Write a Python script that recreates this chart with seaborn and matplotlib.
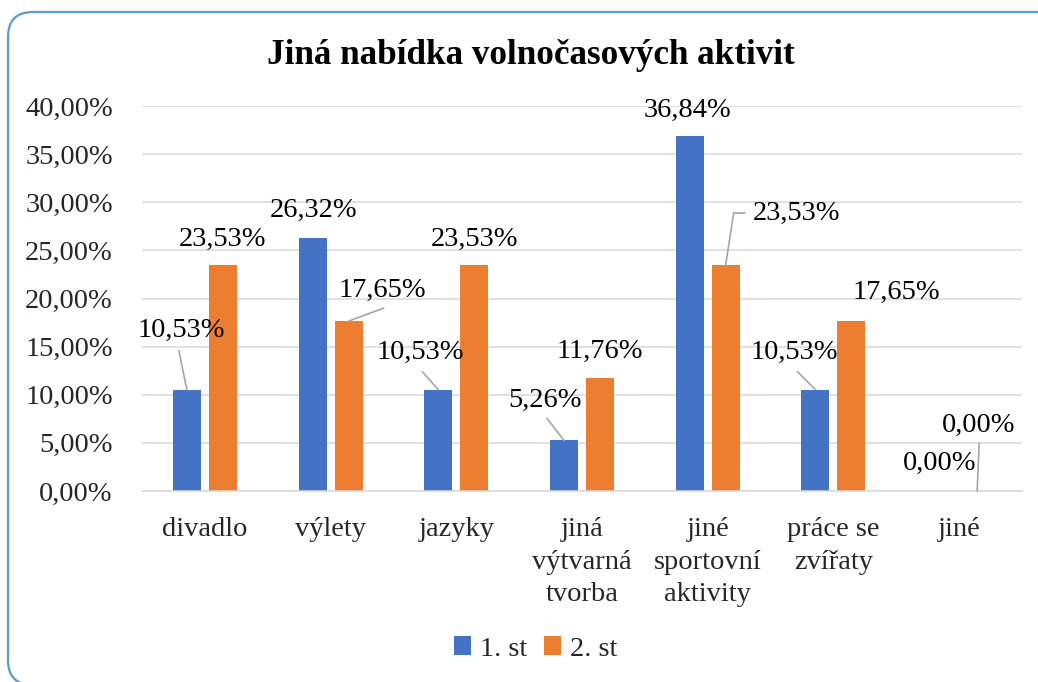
import matplotlib
matplotlib.use("Agg")
import matplotlib.pyplot as plt
from matplotlib.patches import FancyBboxPatch
from matplotlib.transforms import IdentityTransform
import pandas as pd
import seaborn as sns

# data
categories = ["divadlo", "výlety", "jazyky", "jiná\nvýtvarná\ntvorba",
              "jiné\nsportovní\naktivity", "práce se\nzvířaty", "jiné"]
series_names = ["1. st", "2. st"]
values_1st = [10.53, 26.32, 10.53, 5.26, 36.84, 10.53, 0.00]
values_2nd = [23.53, 17.65, 23.53, 11.76, 23.53, 17.65, 0.00]
colors = ["#4472C4", "#ED7D31"]

# label placement (pixels relative to bar top) and optional leader end
label_pos_1st = [(-6, 59, (-8, 39)), (1, 27, None), (-18, 37, (-16, 18)),
                 (-19, 40, (-17, 22)), (-2, 26, None), (-21, 37, (-18, 18)),
                 (-2, 28, None)]
label_pos_2nd = [(0, 25, None), (34, 31, (35, 13)), (0, 25, None),
                 (0, 26, None), (71, 51, (8, 52)), (45, 29, None),
                 (1, 66, (2, 48))]

df = pd.DataFrame({
    "kategorie": categories * 2,
    "skupina": [series_names[0]] * len(categories) + [series_names[1]] * len(categories),
    "hodnota": values_1st + values_2nd,
})

sns.set_style("white")
plt.rcParams["font.family"] = ["Liberation Serif", "DejaVu Serif"]

fig = plt.figure(figsize=(10.38, 6.82), dpi=100)
ax = fig.add_axes([142 / 1038, 1 - 491 / 682, 880 / 1038, 385 / 682])

sns.barplot(data=df, x="kategorie", y="hodnota", hue="skupina",
            palette=colors, saturation=1, width=0.573, gap=0.22, linewidth=0,
            ax=ax, legend=True)

ax.set_ylim(0, 40)
ax.set_xlim(-0.5, len(categories) - 0.5)
ax.set_yticks(range(0, 41, 5))
ax.set_yticklabels([f"{v:.2f}".replace(".", ",") + "%" for v in range(0, 41, 5)])
ax.yaxis.grid(True, color="#D9D9D9", linewidth=1.1)
ax.set_axisbelow(True)
for side in ["left", "right", "top"]:
    ax.spines[side].set_visible(False)
ax.spines["bottom"].set_color("#D9D9D9")
ax.spines["bottom"].set_linewidth(1.1)
ax.tick_params(axis="y", length=0, pad=21, labelsize=20.5)
ax.tick_params(axis="x", length=0, pad=19, labelsize=20.5)
for lbl in ax.get_xticklabels():
    lbl.set_linespacing(1.38)
    lbl.set_verticalalignment("top")
ax.set_xlabel("")
ax.set_ylabel("")

# data labels
for cont, vals, pos in zip(ax.containers, [values_1st, values_2nd],
                           [label_pos_1st, label_pos_2nd]):
    for bar, v, (dx, dy, lead) in zip(cont.patches, vals, pos):
        x = bar.get_x() + bar.get_width() / 2
        y = bar.get_height()
        ax.annotate(f"{v:.2f}".replace(".", ",") + "%", xy=(x, y),
                    xytext=(dx, dy), textcoords="offset pixels",
                    ha="center", va="center", fontsize=20.5, color="black")
        if lead is not None:
            ax.annotate("", xy=(x, y), xytext=lead, textcoords="offset pixels",
                        arrowprops=dict(arrowstyle="-", color="#A6A6A6",
                                        lw=1.2, shrinkA=0, shrinkB=0))

# horizontal stub of the elbow leader (jiné sportovní aktivity, 2. st)
bar = ax.containers[1].patches[4]
x0 = bar.get_x() + bar.get_width() / 2
pt = ax.transData.transform((x0, bar.get_height()))
fig.lines.append(plt.Line2D([pt[0] + 8, pt[0] + 19], [pt[1] + 52, pt[1] + 52],
                            transform=IdentityTransform(), color="#A6A6A6", lw=1.2))

fig.suptitle("Jiná nabídka volnočasových aktivit", x=0.511, y=1 - 56 / 682,
             va="center", fontsize=25.3, fontweight="bold", color="black")

handles, labels = ax.get_legend_handles_labels()
ax.get_legend().remove()
fig.legend(handles, labels, loc="center", bbox_to_anchor=(0.516, 1 - 649 / 682),
           ncol=2, frameon=False, fontsize=20.5, handlelength=0.6,
           handleheight=0.6, handletextpad=0.3, columnspacing=0.6)

# rounded chart border, running off the right edge of the picture
border = FancyBboxPatch((8, -3), 1058, 673,
                        boxstyle="round,pad=0,rounding_size=25",
                        transform=IdentityTransform(), facecolor="none",
                        edgecolor="#5B9BD5", linewidth=1.6)
fig.patches.append(border)

fig.savefig("out.png", dpi=100)
